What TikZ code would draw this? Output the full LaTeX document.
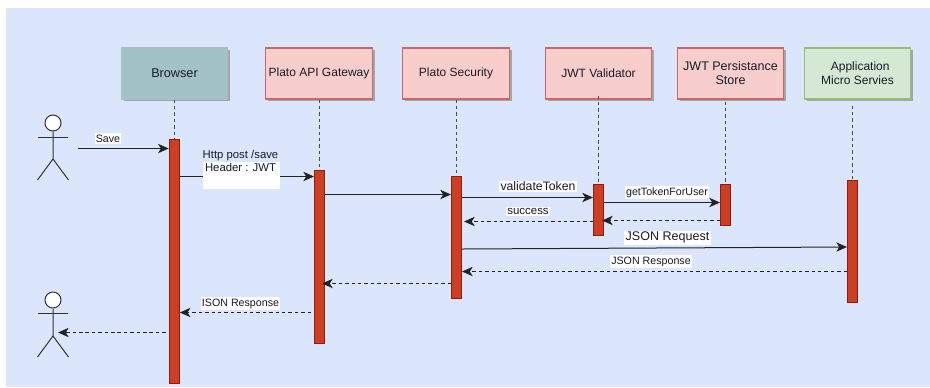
\documentclass[tikz,border=0pt]{standalone}
\usepackage{fontspec}
\setmainfont{Liberation Sans}
\usetikzlibrary{arrows.meta,shadows,calc}
\definecolor{bgc}{HTML}{DBE6FD}
\definecolor{pinkf}{HTML}{F8CECC}
\definecolor{pinkd}{HTML}{C76A67}
\definecolor{greenf}{HTML}{D5E8D4}
\definecolor{greend}{HTML}{93BE78}
\definecolor{tealf}{HTML}{A2C2C7}
\definecolor{barf}{HTML}{CC3F22}
\definecolor{bard}{HTML}{8F1D0C}
\definecolor{txt}{HTML}{1A1A2A}
\definecolor{lin}{HTML}{222222}
\tikzset{
  box/.style={draw,line width=0.8pt,minimum width=80pt,minimum height=38.25pt,inner sep=0pt,align=center,
    font=\fontsize{9pt}{10.5pt}\selectfont,text=txt,
    drop shadow={shadow xshift=1.8pt,shadow yshift=-1.8pt,fill=black!45,opacity=0.7}},
  pinkbox/.style={box,fill=pinkf,draw=pinkd},
  greenbox/.style={box,fill=greenf,draw=greend},
  tealbox/.style={box,fill=tealf,draw=tealf},
  bar/.style={draw=bard,fill=barf,line width=0.7pt,minimum width=7.6pt,inner sep=0pt},
  life/.style={draw=black!70,line width=0.75pt,dash pattern=on 2.6pt off 2.2pt},
  msg/.style={draw=lin,line width=0.75pt,-{Stealth[length=8pt,width=7pt,inset=2.2pt]}},
  reply/.style={msg,dash pattern=on 2.6pt off 2.2pt},
  lab/.style={fill=white,inner sep=1pt,text=txt,font=\fontsize{8pt}{10pt}\selectfont},
  actorline/.style={draw=black!80,line width=0.75pt},
  head/.style={circle,draw=black!80,fill=white,line width=0.75pt,minimum size=12pt,inner sep=0pt},
}
\begin{document}
\begin{tikzpicture}[x=0.75pt,y=-0.75pt]
\useasboundingbox (0,0) rectangle (930,387);
\fill[white] (0,0) rectangle (930,387);
\fill[bgc] (6,7.5) rectangle (930,387);

% participants
\node[tealbox,font=\fontsize{9.5pt}{10.5pt}\selectfont]  (browser) at (174.5,73.5) {Browser};
\node[pinkbox]  (gate)    at (319,73.5) {Plato API Gateway};
\node[pinkbox]  (sec)     at (456,73.5) {Plato Security};
\node[pinkbox]  (val)     at (598.5,73.5) {JWT Validator};
\node[pinkbox,font=\fontsize{9.4pt}{10.5pt}\selectfont]  (store)   at (730.5,73.5) {JWT Persistance\\Store};
\node[greenbox] (app)     at (857.5,73.5) {\hspace*{4pt}Application\\Micro Servies};

% activation bars
\node[bar,minimum height=182.6pt]  (bBrowser) at (174.25,261.25) {};
\node[bar,minimum height=129.7pt]  (bGate)    at (319.5,256.5) {};
\node[bar,minimum height=91.5pt]   (bSec)     at (456.5,237) {};
\node[bar,minimum height=38.2pt]   (bVal)     at (598.5,209.5) {};
\node[bar,minimum height=30.7pt]   (bStore)   at (725.5,204.5) {};
\node[bar,minimum height=91.5pt]   (bApp)     at (852.5,241) {};

% lifelines
\draw[life] (browser.south -| bBrowser.north) -- (bBrowser.north);
\draw[life] (gate.south -| bGate.north) -- (bGate.north);
\draw[life] (sec.south -| bSec.north) -- (bSec.north);
\draw[life] ($(val.south -| bVal.north)+(0,-4)$) -- (bVal.north);
\draw[life] ($(store.south -| bStore.north)+(0,2)$) -- (bStore.north);
\draw[life] ($(app.south -| bApp.north)+(0,6)$) -- (bApp.north);

% actors
\node[head] (a1) at (53,123) {};
\coordinate (a1hip) at (53,159);
\coordinate (a1arm) at (53,137);
\draw[actorline] (a1) -- (a1hip) -- ++(-15.5,21);
\draw[actorline] (a1hip) -- ++(15.5,21);
\draw[actorline] (a1arm) ++(-15,0) -- ++(30,0);
\node[head] (a2) at (53,300) {};
\coordinate (a2hip) at (53,336);
\coordinate (a2arm) at (53,313.5);
\draw[actorline] (a2) -- (a2hip) -- ++(-15.5,21);
\draw[actorline] (a2hip) -- ++(15.5,21);
\draw[actorline] (a2arm) ++(-15,0) -- ++(30,0);

% messages
\coordinate (saveStart) at (78,148.5);
\coordinate (a2end) at (58,332.5);
\draw[msg] (saveStart) -- (bBrowser.west |- saveStart);
\coordinate (yhttp) at (0,176.5);
\draw[msg] (bBrowser.east |- yhttp) -- (bGate.west |- yhttp);
\coordinate (y1) at (0,194.5);
\draw[msg] (bGate.east |- y1) -- (bSec.west |- y1);
\coordinate (y2) at (0,197.5);
\draw[msg] (bSec.east |- y2) -- (bVal.west |- y2);
\coordinate (y3) at (0,202.5);
\draw[msg] (bVal.east |- y3) -- (bStore.west |- y3);
\coordinate (y4) at (0,220.5);
\draw[reply] (bStore.west |- y4) -- ($(bVal.east |- y4)+(-2,0)$);
\coordinate (y5) at (0,221.5);
\draw[reply] (bVal.west |- y5) -- ($(bSec.east |- y5)+(2,0)$);
\coordinate (y6a) at (0,249);
\coordinate (y6b) at (0,247);
\draw[msg] (bSec.east |- y6a) -- (bApp.west |- y6b);
\coordinate (y7) at (0,271.5);
\draw[reply] (bApp.west |- y7) -- (bSec.east |- y7);
\coordinate (y8) at (0,283.5);
\draw[reply] (bSec.west |- y8) -- ($(bGate.east |- y8)+(-3,0)$);
\coordinate (y9) at (0,312.5);
\draw[reply] ($(bGate.west |- y9)+(-3,0)$) -- (bBrowser.east |- y9);
\coordinate (y10) at (0,332.5);
\draw[reply] ($(bBrowser.west |- y10)+(-3,0)$) -- (a2end);

% labels
\fill[white] (203,162) rectangle (280,189);
\node[text=txt,font=\fontsize{8.5pt}{10pt}\selectfont,align=center,inner sep=0pt] (lHttp) at (240.5,161) {Http post /save\\Header : JWT};
\node[lab] (lSave) at (108,138.5) {Save};
\node[lab,font=\fontsize{9.2pt}{10pt}\selectfont] (lVal) at (538,186.5) {validateToken};
\node[lab] (lGet) at (667,192.5) {getTokenForUser};
\node[lab,font=\fontsize{8.6pt}{10pt}\selectfont] (lSucc) at (528,211.5) {success};
\node[lab,font=\fontsize{9.4pt}{10pt}\selectfont] (lReq) at (667.5,237.5) {JSON Request};
\node[lab] (lResp) at (651,261.5) {JSON Response};
\node[lab] (lIson) at (240.5,303.5) {ISON Response};
\end{tikzpicture}
\end{document}
